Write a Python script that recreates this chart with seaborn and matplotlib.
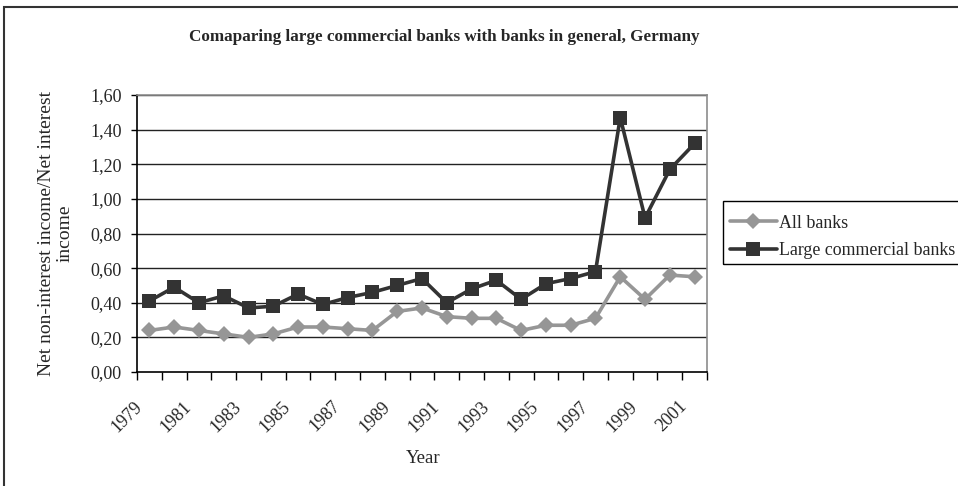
import matplotlib
matplotlib.use("Agg")
import matplotlib.pyplot as plt
import matplotlib.transforms as mtransforms
import seaborn as sns
import pandas as pd
import numpy as np
from matplotlib.patches import Rectangle
from matplotlib.ticker import FixedLocator, FuncFormatter

years = list(range(1979, 2002))
all_banks = [0.24, 0.26, 0.24, 0.22, 0.20, 0.22, 0.26, 0.26, 0.25, 0.24, 0.35, 0.37,
             0.32, 0.31, 0.31, 0.24, 0.27, 0.27, 0.31, 0.55, 0.42, 0.56, 0.55]
large_banks = [0.41, 0.49, 0.40, 0.44, 0.37, 0.38, 0.45, 0.39, 0.43, 0.46, 0.50, 0.54,
               0.40, 0.48, 0.53, 0.42, 0.51, 0.54, 0.58, 1.47, 0.89, 1.17, 1.32]
series_names = ["All banks", "Large commercial banks"]
title = "Comaparing large commercial banks with banks in general, Germany"
y_label = "Net non-interest income/Net interest\nincome"
x_label = "Year"
y_ticks = [0.0, 0.2, 0.4, 0.6, 0.8, 1.0, 1.2, 1.4, 1.6]

df = pd.DataFrame({
    "pos": list(range(len(years))) * 2,
    "year": years * 2,
    "value": all_banks + large_banks,
    "series": [series_names[0]] * len(years) + [series_names[1]] * len(years),
})

sns.set_style("white")
plt.rcParams["font.family"] = ["Liberation Serif", "DejaVu Serif"]

GRAY = "#969696"
DARK = "#333333"
MS_SQ = 10.5
MS_D = 7.8

fig = plt.figure(figsize=(9.58, 4.86), dpi=100)
W, H = 958, 486
ax = fig.add_axes([137 / W, 1 - 372 / H, (707 - 137) / W, (372 - 95) / H])

palette = {series_names[0]: GRAY, series_names[1]: DARK}
sns.lineplot(data=df, x="pos", y="value", hue="series", style="series",
             markers={series_names[0]: "D", series_names[1]: "s"},
             dashes=False, palette=palette, linewidth=2.6,
             markersize=MS_SQ, markeredgewidth=0, ax=ax, legend=False, zorder=3)
for ln in ax.get_lines():
    if ln.get_marker() == "D":
        ln.set_markersize(MS_D)

ax.set_xlim(-0.5, len(years) - 0.5)
ax.set_ylim(0, 1.6)
ax.set_yticks(y_ticks)
ax.yaxis.set_major_formatter(FuncFormatter(lambda v, p: f"{v:.2f}".replace(".", ",")))
ax.tick_params(axis="y", direction="out", length=4, width=1, color="black",
               labelsize=13, pad=7, left=True)
for v in y_ticks[1:]:
    ax.axhline(v, color="#222222", lw=1.0, zorder=1)

label_pos = list(range(0, len(years), 2))
ax.set_xticks(label_pos)
ax.set_xticklabels([str(years[i]) for i in label_pos], rotation=45, ha="right",
                   va="center", rotation_mode="anchor", fontsize=13)
ax.tick_params(axis="x", which="major", length=0, pad=23)
offset = mtransforms.ScaledTranslation(-10 / 100, 0, fig.dpi_scale_trans)
for lab in ax.get_xticklabels():
    lab.set_transform(lab.get_transform() + offset)
ax.xaxis.set_minor_locator(FixedLocator(np.arange(-0.5, len(years), 1.0)))
ax.tick_params(axis="x", which="minor", direction="out", length=6, width=1,
               color="black", bottom=True)

for s in ["left", "bottom"]:
    ax.spines[s].set_color("black")
    ax.spines[s].set_linewidth(1.2)
for s in ["top", "right"]:
    ax.spines[s].set_color("#8c8c8c")
    ax.spines[s].set_linewidth(1.2)

ax.set_xlabel("")
ax.set_ylabel("")
fig.text(423 / W, 1 - 458 / H, x_label, ha="center", va="center", fontsize=13.5)
fig.text(56 / W, 1 - 233 / H, y_label, ha="center", va="center", rotation=90,
         fontsize=14, linespacing=1.1, multialignment="center")

fig.text(444 / W, 1 - 37 / H, title, ha="center", va="center",
         fontsize=12.3, fontweight="bold")

handles = [plt.Line2D([], [], color=GRAY, marker="D", ms=MS_D, mew=0, lw=2.6),
           plt.Line2D([], [], color=DARK, marker="s", ms=MS_SQ, mew=0, lw=2.6)]
leg = fig.legend(handles, series_names, loc="center left",
                 bbox_to_anchor=(723 / W, 1 - 237 / H), frameon=False,
                 fontsize=12.9, handlelength=2.6, handletextpad=0.15,
                 borderpad=0.4, labelspacing=0.6, borderaxespad=0)
fig.patches.append(Rectangle((723 / W, 1 - 264 / H), 300 / W, 63 / H,
                             transform=fig.transFigure, fill=False,
                             edgecolor="black", lw=1.0, clip_on=False, zorder=5))

fig.patches.append(Rectangle((4 / W, -0.2), 1.2, 1 - 7 / H + 0.2,
                             transform=fig.transFigure, fill=False,
                             edgecolor="#333333", lw=1.5, clip_on=False))

fig.savefig("out.png", dpi=100)
